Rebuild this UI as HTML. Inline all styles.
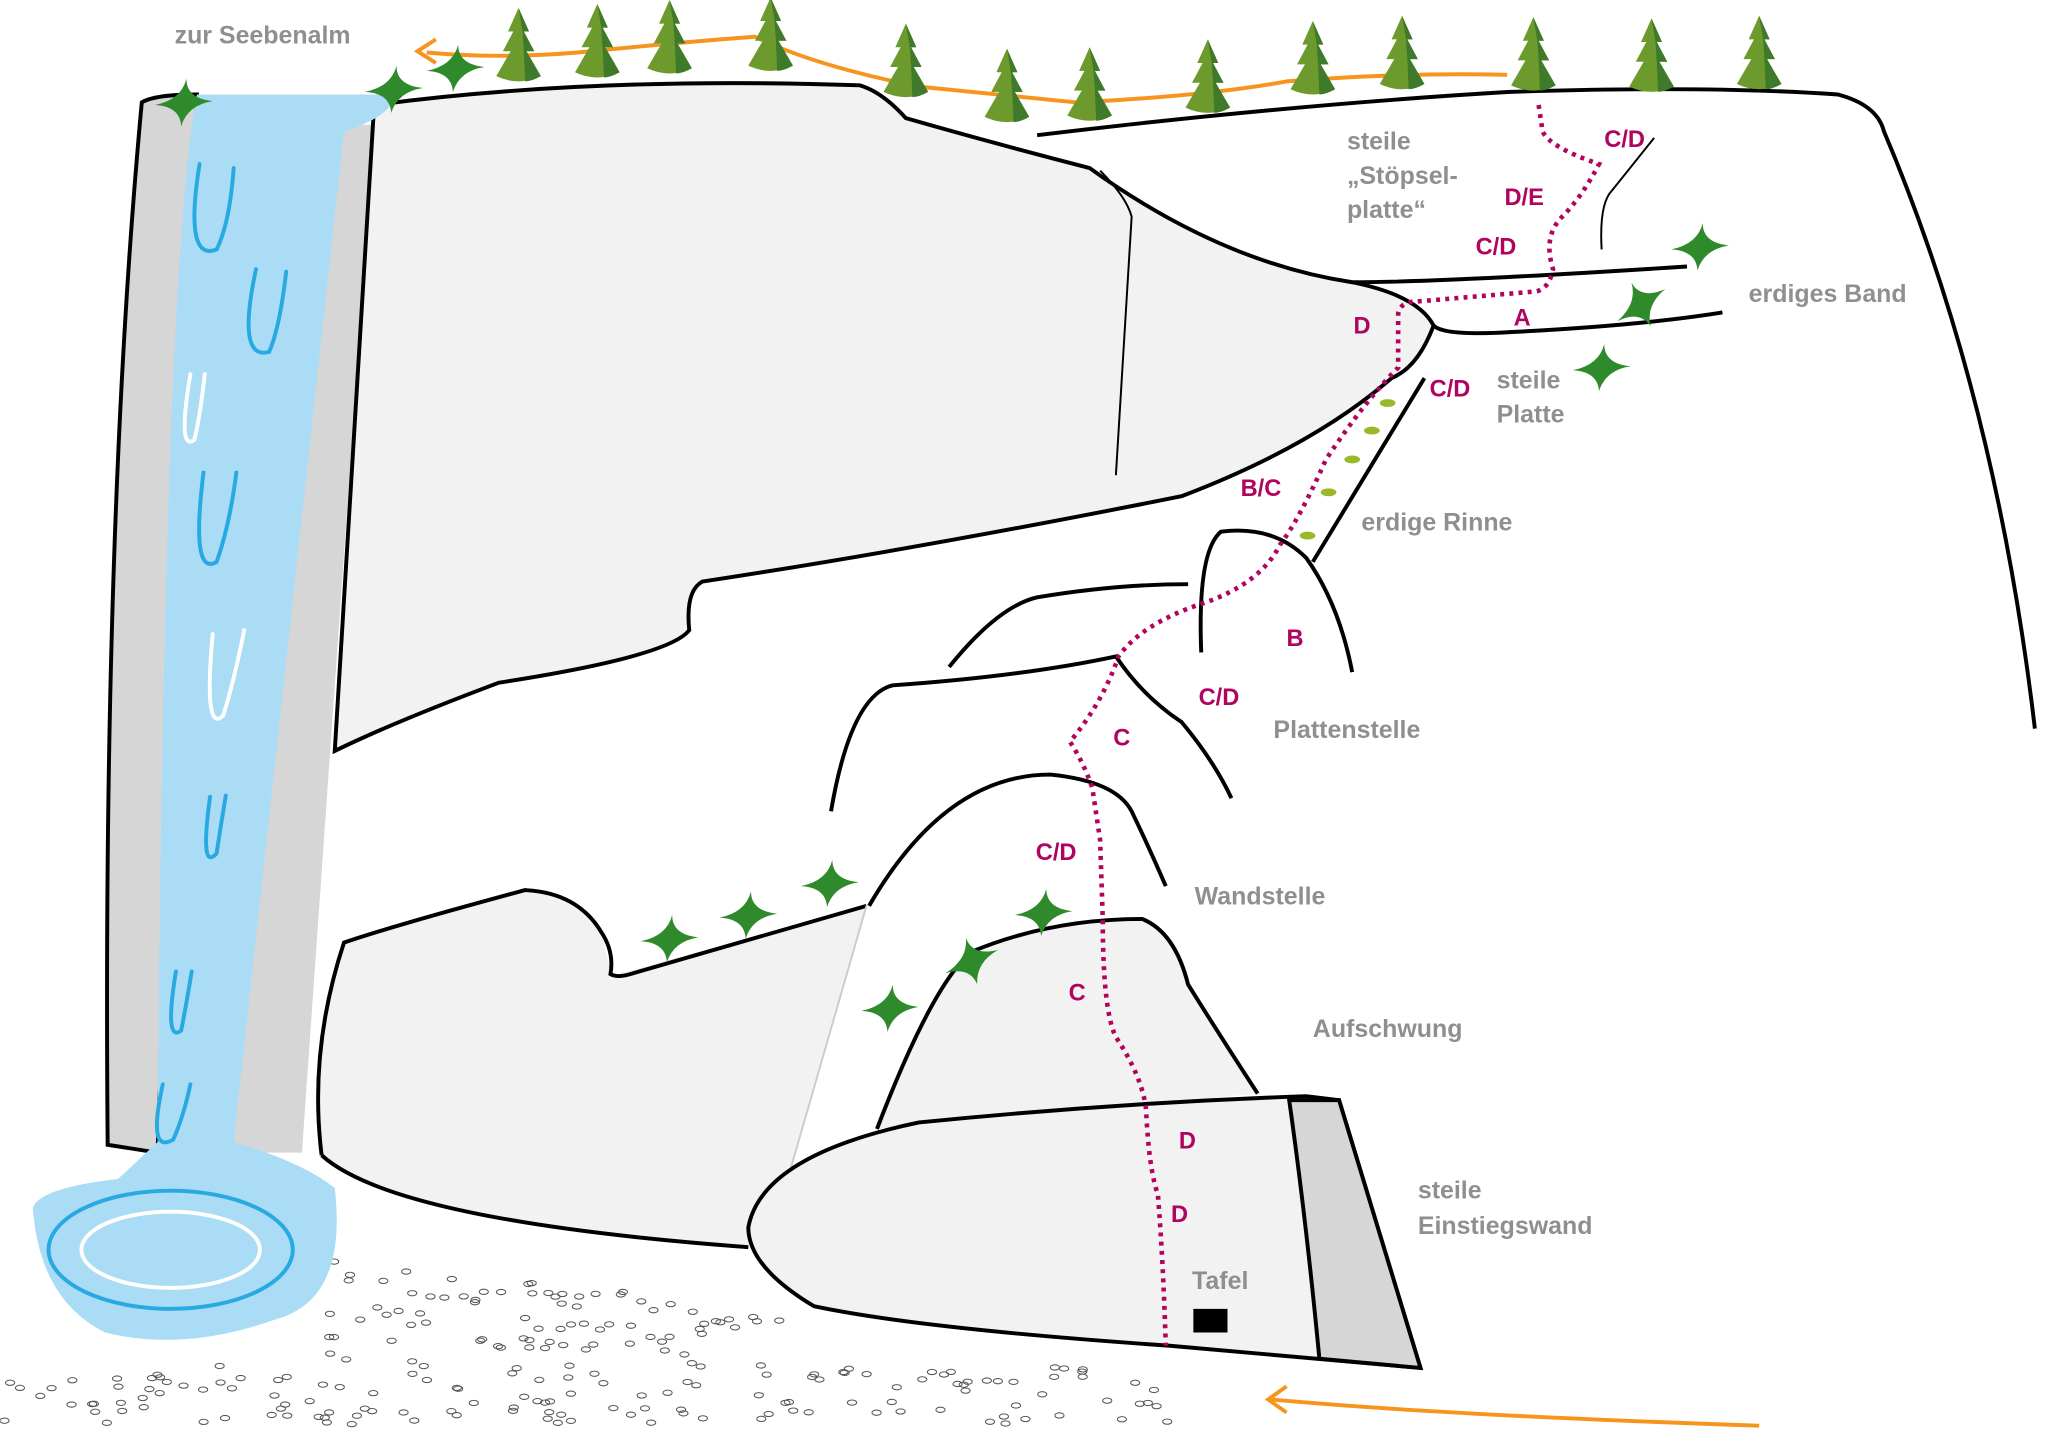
<!DOCTYPE html>
<html><head><meta charset="utf-8"><style>
html,body{margin:0;padding:0;background:#fff;}
svg{display:block;}
.g{font-family:"Liberation Sans",sans-serif;font-weight:bold;font-size:19px;fill:#8f8f8f;}
.m{font-family:"Liberation Sans",sans-serif;font-weight:bold;font-size:18px;fill:#b0045f;}
</style></head><body>
<svg width="2048" height="1445" viewBox="0 0 1560 1100.7" preserveAspectRatio="none" xmlns="http://www.w3.org/2000/svg">
<defs>
<g id="tree">
<path d="M0,-58 L-8,-40 L-4,-40 L-12,-25 L-6,-25 L-17,-6 Q0,2 17,-6 L6,-25 L12,-25 L4,-40 L8,-40 Z" fill="#6d9a2c"/>
<path d="M0,-58 L8,-40 L4,-40 L12,-25 L6,-25 L17,-6 Q10,-2 5,-2 L4,-25 L3,-40 Z" fill="#3f7a2a"/>
</g>
<path id="star" d="M2,-18 Q2,-3 22,-1 Q3,2 -2,18 Q-3,3 -22,2 Q-2,-2 2,-18Z" fill="#2e8a2a"/>
</defs>
<g id="peb" fill="none" stroke="#555" stroke-width="0.8"></g>
<path d="M108,78 Q118,72 150,72 L120,878 L82,872 Q78,400 108,78Z" fill="#d6d6d6" stroke="#000" stroke-width="3"/>
<path d="M285,95 L230,878 L165,878 L260,95Z" fill="#d6d6d6"/>
<path d="M245,880 Q235,800 262,718 Q300,705 400,678 Q440,680 458,710 Q465,745 470,742 L660,690 L598,905 L570,950 Q300,930 245,880Z" fill="#f2f2f2"/>
<path d="M245,880 Q235,800 262,718 Q300,705 400,678 Q440,680 458,710 Q468,725 465,742 Q470,745 480,742 L660,690" fill="none" stroke="#000" stroke-width="3"/>
<path d="M245,880 Q300,930 570,950" fill="none" stroke="#000" stroke-width="3"/>
<path d="M660,690 L598,905" stroke="#ccc" stroke-width="1.5"/>
<path d="M285,80 Q450,58 655,65 Q672,70 690,90 Q760,110 830,128 Q930,200 1030,215 Q1080,225 1092,248 Q1080,280 1060,288 Q1000,340 900,378 Q700,418 535,443 Q522,450 525,480 Q510,500 380,520 Q300,550 255,572 Z" fill="#f2f2f2" stroke="#000" stroke-width="3"/>
<path d="M150,72 L300,72 Q300,88 262,100 L178,870 Q230,885 255,905 Q265,990 210,1005 Q140,1030 80,1015 Q30,990 25,920 Q30,905 90,898 L120,870 Q125,200 150,72Z" fill="#aadcf5"/>
<ellipse cx="130" cy="952" rx="93" ry="45" fill="none" stroke="#29a9e1" stroke-width="3"/>
<ellipse cx="130" cy="952" rx="68" ry="29" fill="none" stroke="#fff" stroke-width="3"/>
<g fill="none" stroke-width="3" stroke-linecap="round">
<path d="M152,125 Q140,200 165,190 Q175,170 178,128" stroke="#29a9e1"/>
<path d="M195,205 Q180,275 205,268 Q213,250 218,207" stroke="#29a9e1"/>
<path d="M145,285 Q135,345 148,335 Q152,320 156,285" stroke="#fff"/>
<path d="M155,360 Q145,440 165,428 Q175,400 180,360" stroke="#29a9e1"/>
<path d="M162,483 Q155,560 170,545 Q178,520 186,480" stroke="#fff"/>
<path d="M160,607 Q152,665 165,650 Q168,630 172,606" stroke="#29a9e1"/>
<path d="M134,740 Q125,795 138,785 Q142,765 146,740" stroke="#29a9e1"/>
<path d="M124,826 Q112,880 132,868 Q140,850 145,826" stroke="#29a9e1"/>
</g>
<path d="M790,103 Q980,80 1150,70 Q1300,65 1400,72 Q1430,80 1435,100 Q1520,300 1550,555" fill="none" stroke="#000" stroke-width="3"/>
<path d="M1030,215 Q1100,215 1285,203" fill="none" stroke="#000" stroke-width="3"/>
<path d="M1092,248 Q1100,256 1150,253 Q1250,248 1312,238" fill="none" stroke="#000" stroke-width="3"/>
<path d="M1260,105 Q1240,130 1228,145 Q1218,155 1220,190" fill="none" stroke="#000" stroke-width="1.5"/>
<path d="M838,130 Q858,150 862,165 L850,362" fill="none" stroke="#000" stroke-width="1.5"/>
<path d="M1085,288 L1000,428" fill="none" stroke="#000" stroke-width="3"/>
<path d="M915,497 Q912,420 930,405 Q970,400 995,425 Q1020,460 1030,512" fill="none" stroke="#000" stroke-width="3"/>
<g fill="#9ab92a"><ellipse cx="1057" cy="307" rx="6" ry="3"/><ellipse cx="1045" cy="328" rx="6" ry="3"/><ellipse cx="1030" cy="350" rx="6" ry="3"/><ellipse cx="1012" cy="375" rx="6" ry="3"/><ellipse cx="996" cy="408" rx="6" ry="3"/></g>
<path d="M723,508 Q760,462 790,455 Q850,445 905,445" fill="none" stroke="#000" stroke-width="3"/>
<path d="M633,618 Q648,530 680,522 Q780,515 850,500 Q870,530 900,550 Q925,580 938,608" fill="none" stroke="#000" stroke-width="3"/>
<path d="M662,690 Q720,590 800,590 Q850,595 862,618 Q875,645 888,675" fill="none" stroke="#000" stroke-width="3"/>
<path d="M668,860 Q710,750 740,725 Q800,700 870,700 Q895,710 905,750 Q930,790 958,833" fill="#f2f2f2" stroke="#000" stroke-width="3"/>
<path d="M570,935 Q580,880 700,855 Q850,840 995,835 L1020,838 L1082,1042 Q1000,1035 890,1025 Q700,1012 620,995 Q570,965 570,935Z" fill="#f2f2f2" stroke="#000" stroke-width="3"/>
<path d="M982,838 L1020,838 L1082,1042 L1005,1035 Q995,930 982,838Z" fill="#d6d6d6" stroke="#000" stroke-width="3"/>
<rect x="909" y="997" width="26" height="18" fill="#000"/>
<path d="M1172,80 L1175,100 Q1180,112 1218,125 Q1205,150 1190,165 Q1175,180 1183,205 Q1180,220 1170,222 L1075,230 Q1065,232 1065,240 L1065,280 Q1040,305 1010,350 Q990,395 975,415 Q960,445 915,460 Q870,475 852,500 Q840,535 815,565 Q825,580 832,600 L838,640 L840,700 Q840,770 850,790 Q870,820 873,845 Q875,890 882,910 Q886,960 888,1025" fill="none" stroke="#b0045f" stroke-width="3.5" stroke-dasharray="3,4"/>
<path d="M325,40 Q380,45 440,40 Q520,32 575,28 Q620,50 700,66 Q760,72 820,78 Q920,73 980,62 Q1070,55 1148,57" fill="none" stroke="#f7941d" stroke-width="3"/>
<path d="M332,30 L318,39 L332,48" fill="none" stroke="#f7941d" stroke-width="3"/>
<path d="M968,1066 Q1100,1078 1340,1086" fill="none" stroke="#f7941d" stroke-width="3"/>
<path d="M980,1056 L966,1066 L980,1076" fill="none" stroke="#f7941d" stroke-width="3"/>
<g>
<use href="#tree" x="395" y="64"/><use href="#tree" x="455" y="61"/><use href="#tree" x="510" y="58"/><use href="#tree" x="587" y="56"/><use href="#tree" x="690" y="76"/><use href="#tree" x="767" y="95"/><use href="#tree" x="830" y="94"/><use href="#tree" x="920" y="88"/><use href="#tree" x="1000" y="74"/><use href="#tree" x="1068" y="70"/><use href="#tree" x="1168" y="71"/><use href="#tree" x="1258" y="72"/><use href="#tree" x="1340" y="70"/>
</g>
<g>
<use href="#star" x="140" y="78"/><use href="#star" x="300" y="68"/><use href="#star" x="347" y="52"/>
<use href="#star" x="1295" y="188"/><use href="#star" x="1250" y="232" transform="rotate(-30 1250 232)"/><use href="#star" x="1220" y="280"/>
<use href="#star" x="510" y="715"/><use href="#star" x="570" y="697"/><use href="#star" x="632" y="673"/>
<use href="#star" x="795" y="695"/><use href="#star" x="740" y="732" transform="rotate(-20 740 732)"/><use href="#star" x="678" y="768"/>
</g>
<text class="g" x="133" y="33">zur Seebenalm</text>
<text class="g" x="1026" y="114">steile</text>
<text class="g" x="1026" y="140">„Stöpsel-</text>
<text class="g" x="1026" y="166">platte“</text>
<text class="g" x="1332" y="230">erdiges Band</text>
<text class="g" x="1140" y="296">steile</text>
<text class="g" x="1140" y="322">Platte</text>
<text class="g" x="1037" y="404">erdige Rinne</text>
<text class="g" x="970" y="562">Plattenstelle</text>
<text class="g" x="910" y="689">Wandstelle</text>
<text class="g" x="1000" y="790">Aufschwung</text>
<text class="g" x="1080" y="913">steile</text>
<text class="g" x="1080" y="940">Einstiegswand</text>
<text class="g" x="908" y="982">Tafel</text>
<text class="m" x="1222" y="112">C/D</text>
<text class="m" x="1146" y="156">D/E</text>
<text class="m" x="1124" y="194">C/D</text>
<text class="m" x="1153" y="248">A</text>
<text class="m" x="1031" y="254">D</text>
<text class="m" x="1089" y="302">C/D</text>
<text class="m" x="945" y="378">B/C</text>
<text class="m" x="980" y="492">B</text>
<text class="m" x="913" y="537">C/D</text>
<text class="m" x="848" y="568">C</text>
<text class="m" x="789" y="655">C/D</text>
<text class="m" x="814" y="762">C</text>
<text class="m" x="898" y="875">D</text>
<text class="m" x="892" y="931">D</text>
</svg>
<script>
(function(){
var g=document.getElementById('peb');var s=7;function r(){s=(s*9301+49297)%233280;return s/233280;}
var out='';
for(var i=0;i<420;i++){
 var x=r()*910, y=955+r()*130;
 if(y<1040 && x<250) continue;
 if(x>600 && y<1040) continue;
 if(x>250 && x<600 && y<960+(x-250)*0.1) continue;
 out+='<ellipse cx="'+x.toFixed(1)+'" cy="'+y.toFixed(1)+'" rx="3.5" ry="2"/>';
}
g.innerHTML=out;
})();
</script>
</body></html>
